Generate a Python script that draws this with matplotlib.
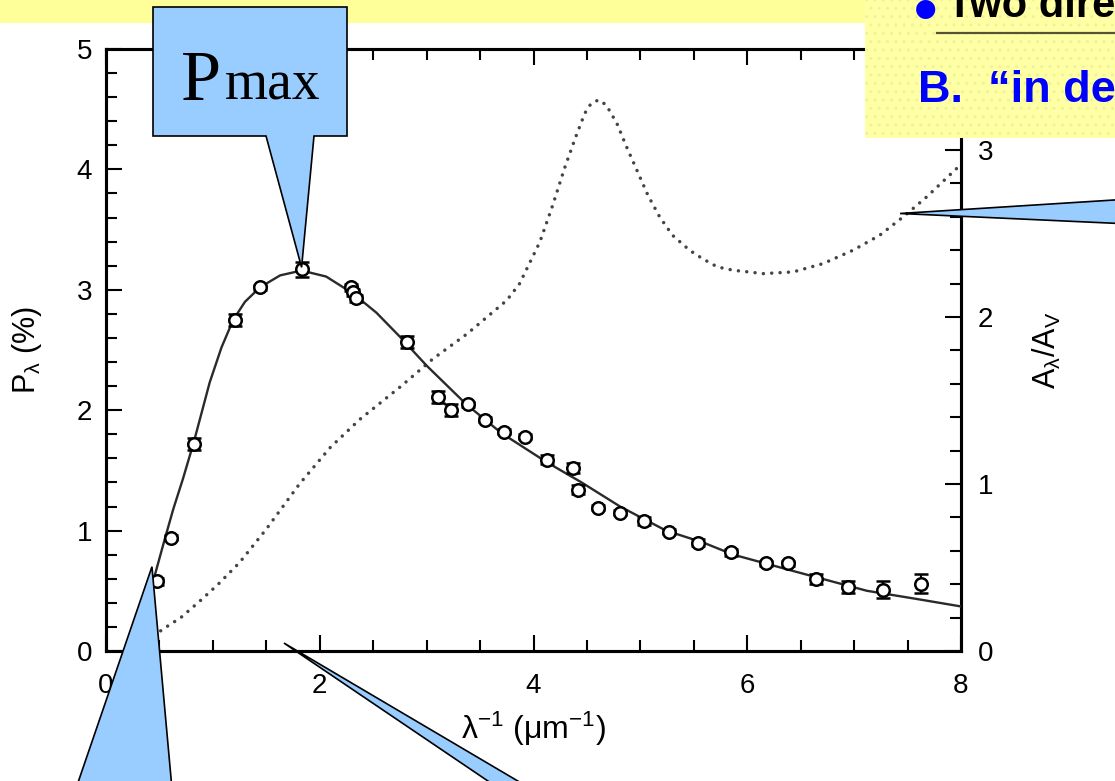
import matplotlib
matplotlib.use("Agg")
import matplotlib.pyplot as plt
from matplotlib.patches import Polygon, Rectangle
from matplotlib.ticker import MultipleLocator

# ---- measured polarization (percent) versus inverse wavelength ----
pol_x = [0.48, 0.61, 0.82, 1.21, 1.44, 1.83, 2.29, 2.31, 2.34, 2.82, 3.11,
         3.23, 3.39, 3.55, 3.72, 3.92, 4.13, 4.37, 4.42, 4.60, 4.81, 5.03,
         5.27, 5.54, 5.85, 6.18, 6.38, 6.64, 6.94, 7.27, 7.63]
pol_y = [0.58, 0.94, 1.72, 2.75, 3.02, 3.17, 3.02, 2.98, 2.93, 2.57, 2.11,
         2.00, 2.05, 1.92, 1.82, 1.78, 1.59, 1.52, 1.34, 1.19, 1.15, 1.08,
         0.99, 0.90, 0.82, 0.73, 0.73, 0.60, 0.53, 0.51, 0.56]
pol_err = [0.03, 0.02, 0.05, 0.05, 0.02, 0.06, 0.03, 0.03, 0.03, 0.05, 0.05,
           0.05, 0.02, 0.02, 0.02, 0.02, 0.04, 0.04, 0.04, 0.02, 0.02, 0.03,
           0.02, 0.03, 0.03, 0.02, 0.02, 0.04, 0.05, 0.07, 0.08]

# ---- fitted polarization curve ----
fit_x = [0.40, 0.46, 0.55, 0.63, 0.72, 0.82, 0.97, 1.08, 1.19, 1.30, 1.44,
         1.63, 1.83, 2.06, 2.31, 2.53, 2.75, 3.00, 3.37, 3.70, 4.12, 4.45,
         4.81, 5.24, 5.59, 5.87, 6.49, 7.12, 7.60, 8.00]
fit_y = [0.45, 0.64, 0.93, 1.18, 1.43, 1.73, 2.23, 2.52, 2.75, 2.90, 3.02,
         3.12, 3.16, 3.11, 2.97, 2.81, 2.61, 2.37, 2.05, 1.81, 1.57, 1.40,
         1.20, 1.00, 0.90, 0.80, 0.65, 0.50, 0.43, 0.37]

# ---- extinction curve A_lambda / A_V ----
ext_x = [0.45, 0.53, 0.70, 0.88, 1.05, 1.25, 1.50, 1.81, 2.10, 2.38, 2.75,
         3.06, 3.38, 3.75, 3.87, 4.06, 4.18, 4.29, 4.39, 4.48, 4.54, 4.61,
         4.68, 4.78, 4.87, 4.96, 5.07, 5.18, 5.30, 5.46, 5.58, 5.72, 5.87,
         6.15, 6.43, 6.71, 6.99, 7.24, 7.46, 7.68, 7.96, 8.00]
ext_y = [0.09, 0.13, 0.20, 0.30, 0.40, 0.53, 0.73, 1.00, 1.22, 1.39, 1.58,
         1.75, 1.90, 2.10, 2.20, 2.45, 2.67, 2.89, 3.07, 3.22, 3.28, 3.30,
         3.27, 3.16, 3.02, 2.89, 2.73, 2.60, 2.49, 2.40, 2.35, 2.30, 2.28,
         2.26, 2.27, 2.32, 2.40, 2.49, 2.60, 2.72, 2.89, 2.92]

x_ticks = [0, 2, 4, 6, 8]
p_ticks = [0, 1, 2, 3, 4, 5]
a_ticks = [0, 1, 2, 3]

W, H = 1115, 781
plt.rcParams['font.family'] = ['Liberation Sans', 'DejaVu Sans']
plt.rcParams['mathtext.fontset'] = 'custom'
plt.rcParams['mathtext.rm'] = 'Liberation Sans'
plt.rcParams['mathtext.it'] = 'Liberation Sans:italic'

fig = plt.figure(figsize=(W / 100, H / 100), dpi=100)
fig.patch.set_facecolor('white')

ax = fig.add_axes([106 / W, 1 - 651 / H, (961 - 106) / W, (651 - 49) / H])
ax.set_xlim(0, 8)
ax.set_ylim(0, 5)
ax2 = ax.twinx()
ax2.set_ylim(0, 3.605)

# extinction (dotted, right axis)
ax2.plot(ext_x, ext_y, color='#444444', lw=2.5, linestyle=(0, (0.01, 2.4)),
         dash_capstyle='round', zorder=2)

# polarization fit and data (left axis)
ax.plot(fit_x, fit_y, color='#2a2a2a', lw=1.7, zorder=3)
ax.errorbar(pol_x, pol_y, yerr=pol_err, fmt='o', ms=9, mfc='white',
            mec='black', mew=1.8, ecolor='black', elinewidth=1.5,
            capsize=5, capthick=1.5, zorder=4)
ax.set_zorder(ax2.get_zorder() + 1)
ax.patch.set_visible(False)

for a in (ax, ax2):
    for s in a.spines.values():
        s.set_linewidth(2.2)

ax.set_xticks(x_ticks)
ax.xaxis.set_minor_locator(MultipleLocator(0.5))
ax.set_yticks(p_ticks)
ax.yaxis.set_minor_locator(MultipleLocator(0.2))
ax.tick_params(which='both', direction='in', top=True, right=False, width=1.5)
ax.tick_params(which='major', length=11.5)
ax.tick_params(which='minor', length=8)
ax.tick_params(axis='y', labelsize=20, pad=10)
ax.tick_params(axis='x', labelsize=20, pad=16)

ax2.set_yticks(a_ticks)
ax2.yaxis.set_minor_locator(MultipleLocator(0.2))
ax2.tick_params(which='both', direction='in', width=1.5, labelsize=20, pad=12)
ax2.tick_params(which='major', length=11.5)
ax2.tick_params(which='minor', length=8)

ax.set_ylabel(r'P$_{\mathrm{λ}}$ (%)', fontsize=22)
ax.yaxis.set_label_coords(-0.072, 0.5)
ax.set_xlabel(r'λ$^{-1}$ (μm$^{-1}$)', fontsize=23)
ax.xaxis.set_label_coords(0.50, -0.098)
ax2.set_ylabel(r'A$_{\mathrm{λ}}$/A$_{\mathrm{V}}$', fontsize=22)
ax2.yaxis.set_label_coords(1.082, 0.5)

# ---- overlay in pixel coordinates for the slide decorations ----
ov = fig.add_axes([0, 0, 1, 1], zorder=20)
ov.set_xlim(0, W)
ov.set_ylim(H, 0)
ov.axis('off')
ov.patch.set_alpha(0)


def to_px(axis, x, y):
    dx, dy = axis.transData.transform((x, y))
    return dx, H - dy


yellow = '#ffff99'
ov.add_patch(Rectangle((-5, -5), 871, 27.7, fc=yellow, ec='none'))
ov.add_patch(Rectangle((865, -5), 260, 143, fc='#ffffa4', ec='#eef2a0',
                       lw=0, hatch='..'))

ov.text(926, 31, '•', color='#0000ff', fontsize=48, fontweight='bold',
        ha='center', va='baseline')
ov.text(947, 17, 'Two dire', color='black', fontsize=30, fontweight='bold',
        ha='left', va='baseline')
ov.plot([937, 1120], [33, 33], color='#555533', lw=1.6)
ov.text(918, 102, 'B.  “in de', color='#0000ff', fontsize=32.5,
        fontweight='bold', ha='left', va='baseline')

blue = '#99ccff'
# Pmax callout
tx, ty = to_px(ax, 1.83, 3.17)
ov.add_patch(Polygon([(153, 7), (347, 7), (347, 136), (314, 136), (tx, ty - 2),
                      (266, 136), (153, 136)], closed=True, fc=blue,
                     ec='black', lw=1.2))
ov.text(181, 100, 'P', fontsize=52, family='Liberation Serif',
        ha='left', va='baseline')
ov.text(225, 100, 'max', fontsize=40, family='Liberation Serif',
        ha='left', va='baseline')

# pointer to the extinction curve
tx, ty = to_px(ax2, 7.43, 2.62)
ov.add_patch(Polygon([(tx, ty), (1130, 199), (1130, 224)], closed=True,
                     fc=blue, ec='black', lw=1.2))

# pointer from lower left
tx, ty = to_px(ax, 0.43, 0.70)
ov.add_patch(Polygon([(tx, ty), (72, 800), (173, 800)], closed=True,
                     fc=blue, ec='black', lw=1.2))

# pointer from bottom middle
tx, ty = to_px(ax, 1.665, 0.066)
ov.add_patch(Polygon([(tx, ty), (516, 800), (550, 800)], closed=True,
                     fc=blue, ec='black', lw=1.2))

fig.savefig('out.png', dpi=100)
